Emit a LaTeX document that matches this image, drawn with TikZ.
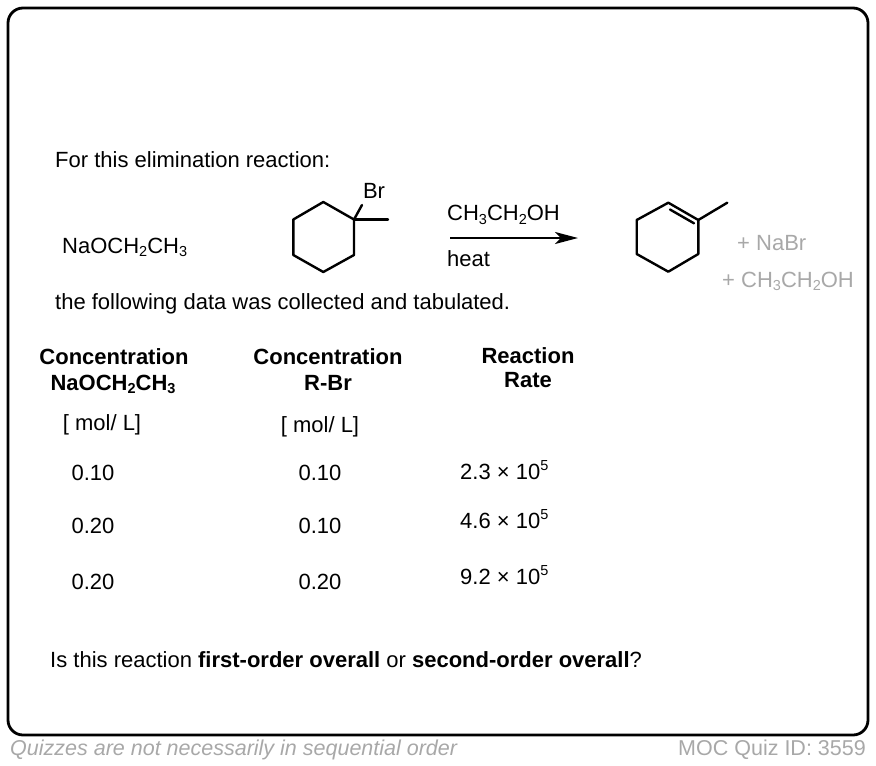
\documentclass[tikz,border=0pt]{standalone}
\usepackage{fontspec}
\setmainfont{Liberation Sans}
\usetikzlibrary{arrows.meta}
\definecolor{lightgrey}{gray}{0.66}
\newcommand{\chemsub}[1]{\raisebox{-0.32ex}{\fontsize{14.5}{15}\selectfont #1}}
\newcommand{\chemsup}[1]{\raisebox{0.75ex}{\fontsize{14.5}{15}\selectfont #1}}

\begin{document}
\begin{tikzpicture}[x=1pt,y=-1pt,
    txt/.style={inner sep=0pt,font=\fontsize{22}{26}\selectfont},
    hdr/.style={inner sep=0pt,font=\fontsize{22}{26}\selectfont\bfseries},
    bond/.style={line width=2.4pt,line cap=round,line join=round}]
  \useasboundingbox (0,0) rectangle (876,766);
  % frame
  \draw[line width=2.8pt,rounded corners=15pt] (8,8) rectangle (868,735);
  % reaction
  \node[txt,anchor=base west] (intro) at (55,167) {For this elimination reaction:};
  \node[txt,anchor=base west] (base) at (62,253) {NaOCH\chemsub{2}CH\chemsub{3}};
  \begin{scope}
   \draw[bond] (323.3,202) -- (354,219.5) -- (354,255) -- (323.3,272)
               -- (293.3,255) -- (293.3,219.5) -- cycle;
   \draw[bond] (354,219.5) -- (388,219.5);
   \draw[bond] (354,219.5) -- (362,205);
   \node[txt,anchor=base] (br) at (374,198) {Br};
  \end{scope}
  \node[txt,anchor=base west] (solvent) at (447,220.5) {CH\chemsub{3}CH\chemsub{2}OH};
  \node[txt,anchor=base west] (heat) at (447,266) {heat};
  \coordinate (arrowstart) at (450,238);
  \coordinate (arrowend) at (578,238);
  \draw[line width=2.4pt,-{Stealth[length=23pt,width=12pt,inset=6pt]}] (arrowstart) -- (arrowend);
  \begin{scope}
   \draw[bond] (668.3,202.7) -- (698.3,220) -- (698.3,254) -- (668.3,271.7)
               -- (636.7,254) -- (636.7,220) -- cycle;
   \draw[bond] (670,209.5) -- (694,223.3);
   \draw[bond] (698.3,220) -- (727.3,202.7);
  \end{scope}
  \node[txt,anchor=base west,lightgrey] (nabr) at (737,250) {+ NaBr};
  \node[txt,anchor=base west,lightgrey] (ethanol) at (722,287) {+ CH\chemsub{3}CH\chemsub{2}OH};
  \node[txt,anchor=base west] (tab) at (55,309) {the following data was collected and tabulated.};
  % table header
  \node[hdr,anchor=base] (h1a) at (114,364) {Concentration};
  \node[hdr,anchor=base] (h1b) at (113,390) {NaOCH\chemsub{2}CH\chemsub{3}};
  \node[txt,anchor=base] (h1c) at (102,430) {[ mol/ L]};
  \node[hdr,anchor=base] (h2a) at (328,364) {Concentration};
  \node[hdr,anchor=base] (h2b) at (328,390) {R-Br};
  \node[txt,anchor=base] (h2c) at (320,432) {[ mol/ L]};
  \node[hdr,anchor=base] (h3a) at (528,363) {Reaction};
  \node[hdr,anchor=base] (h3b) at (528,387) {Rate};
  % table rows
  \node[txt,anchor=base] (r1a) at (93,480) {0.10};
  \node[txt,anchor=base] (r1b) at (320,480) {0.10};
  \node[txt,anchor=base west] (r1c) at (460,479) {2.3 × 10\chemsup{5}};
  \node[txt,anchor=base] (r2a) at (93,533) {0.20};
  \node[txt,anchor=base] (r2b) at (320,533) {0.10};
  \node[txt,anchor=base west] (r2c) at (460,528) {4.6 × 10\chemsup{5}};
  \node[txt,anchor=base] (r3a) at (93,589) {0.20};
  \node[txt,anchor=base] (r3b) at (320,589) {0.20};
  \node[txt,anchor=base west] (r3c) at (460,584) {9.2 × 10\chemsup{5}};
  % question
  \node[txt,anchor=base west] (question) at (50,667)
    {Is this reaction \textbf{first-order overall} or \textbf{second-order overall}?};
  % footer
  \node[inner sep=0pt,anchor=base west,lightgrey,font=\fontsize{21.5}{25}\selectfont\itshape] (note) at (10,755)
    {Quizzes are not necessarily in sequential order};
  \node[inner sep=0pt,anchor=base east,lightgrey,font=\fontsize{21.5}{25}\selectfont] (quizid) at (866,755)
    {MOC Quiz ID: 3559};
\end{tikzpicture}
\end{document}
